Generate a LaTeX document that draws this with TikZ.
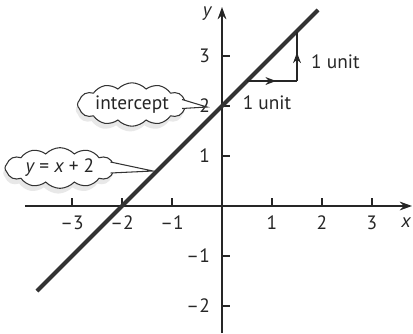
\documentclass[tikz,border=0pt]{standalone}
\usepackage{fontspec}
\setmainfont{PT Sans}
\usetikzlibrary{arrows.meta,shapes.symbols,shadows,calc,decorations.markings}

\tikzset{
  bubble/.style={cloud,cloud puffs=12,cloud puff arc=95,aspect=3.4,draw=black!80,fill=white,line width=0.6pt,inner sep=1pt,
    drop shadow={shadow xshift=-1pt,shadow yshift=-3pt,opacity=0.15,fill=black!60}},
  tail/.style={draw=black!80,fill=white,line width=0.6pt,line join=miter},
  midarrow/.style={postaction={decorate},decoration={markings,mark=at position 0.58 with {\arrow{Stealth[length=6pt,width=4.5pt]}}}}
}

\begin{document}
\begin{tikzpicture}[>={Stealth[length=7pt,width=5pt]},font=\fontsize{11pt}{13pt}\selectfont,color=black!85]
  \useasboundingbox (-4.44,-2.54) rectangle (3.82,4.12);

  % axes
  \coordinate (xmin) at (-3.94,0);
  \coordinate (xmax) at (3.8,0);
  \coordinate (ymin) at (0,-2.54);
  \coordinate (ymax) at (0,3.98);
  \draw[line width=0.8pt,->] (xmin) -- (xmax);
  \draw[line width=0.8pt,->] (ymin) -- (ymax);
  \node (xlab) at (3.68,-0.33) {\itshape x};
  \node (ylab) at (-0.3,3.84) {\itshape y};

  \foreach \x/\lab in {-3/–3,-2/–2,-1/–1,1/1,2/2,3/3}{
    \draw[line width=0.8pt] (\x,0) -- (\x,0.16);
    \node (xt\x) at (\x,-0.33) {\lab};
  }
  \foreach \y/\lab in {-2/–2,-1/–1,1/1,2/2,3/3}{
    \draw[line width=0.8pt] (0,\y) -- (0.16,\y);
    \node[anchor=east] (yt\y) at (-0.12,\y) {\lab};
  }

  % the line y = x + 2
  \coordinate (lbot) at (-3.7,-1.7);
  \coordinate (ltop) at (1.92,3.92);
  \draw[line width=2.3pt,black!80] (lbot) -- (ltop);

  % rise over run
  \coordinate (p0) at (0.5,2.5);
  \coordinate (p1) at (1.5,2.5);
  \coordinate (p2) at (1.5,3.48);
  \draw[line width=0.8pt,midarrow] (p0) -- (p1);
  \draw[line width=0.8pt,midarrow] (p1) -- (p2);
  \node (run) at (0.9,2.07) {1 unit};
  \node[anchor=west] (rise) at (1.66,2.88) {1 unit};

  % callouts
  \node[bubble,minimum width=1.95cm,minimum height=0.66cm] (icpt) at (-1.8,2.03) {intercept};
  \coordinate (icpttip) at (-0.3,1.98);
  \path[tail] ($(icpt.east)+(-0.1,0.1)$) -- (icpttip) -- ($(icpt.east)+(-0.1,-0.08)$);

  \node[bubble,minimum width=2.2cm,minimum height=0.68cm] (eqn) at (-3.24,0.76) {\itshape y \upshape= \itshape x \upshape+ 2};
  \coordinate (eqntip) at (-1.38,0.7);
  \path[tail] ($(eqn.east)+(-0.1,0.12)$) -- (eqntip) -- ($(eqn.east)+(-0.1,-0.1)$);
\end{tikzpicture}
\end{document}
